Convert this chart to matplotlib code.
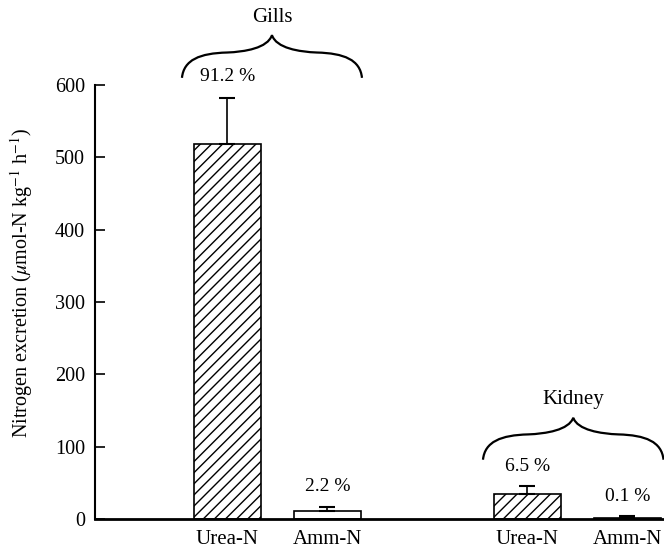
import matplotlib
matplotlib.use("Agg")
import matplotlib.pyplot as plt
from matplotlib.path import Path
from matplotlib.patches import PathPatch

plt.rcParams['font.family'] = ['Liberation Serif', 'DejaVu Serif']
plt.rcParams['mathtext.fontset'] = 'stix'
plt.rcParams['hatch.linewidth'] = 1.0

categories = ["Urea-N", "Amm-N", "Urea-N", "Amm-N"]
values = [518, 11, 35, 2]
errors = [64, 6, 11, 2]
percents = ["91.2 %", "2.2 %", "6.5 %", "0.1 %"]
groups = ["Gills", "Kidney"]
positions = [0, 1, 3, 4]
hatches = ["///", "", "///", ""]
fills = ["white", "white", "white", "black"]

fig = plt.figure(figsize=(6.64, 5.56), dpi=100)
ax = fig.add_axes([0.143, 0.0665, 0.857, 0.7805])

bars = ax.bar(positions, values, width=0.67, color=fills, edgecolor="black",
              linewidth=1.2, zorder=2)
for b, h in zip(bars, hatches):
    b.set_hatch(h)
ax.errorbar(positions, values, yerr=[[0]*4, errors], fmt="none", ecolor="black",
            elinewidth=1.2, capsize=6, capthick=1.5, zorder=3)

pct_y = [612, 45, 73, 31]
for p, t, yy in zip(positions, percents, pct_y):
    ax.text(p, yy, t, ha="center", va="center", fontsize=14)

def brace(x0, x1, ye, ym, yp):
    xc = (x0 + x1) / 2
    w = xc - x0
    verts = [
        (x0, ye),
        (x0 + 0.02 * w, ym - 8), (x0 + 0.2 * w, ym + 1), (x0 + 0.5 * w, ym + 2),
        (xc - 0.3 * w, ym + 3), (xc - 0.05 * w, ym + 8), (xc, yp),
        (xc + 0.05 * w, ym + 8), (xc + 0.3 * w, ym + 3), (x1 - 0.5 * w, ym + 2),
        (x1 - 0.2 * w, ym + 1), (x1 - 0.02 * w, ym - 8), (x1, ye),
    ]
    codes = [Path.MOVETO] + [Path.CURVE4] * 12
    patch = PathPatch(Path(verts, codes), facecolor="none", edgecolor="black",
                      linewidth=1.6, clip_on=False)
    ax.add_patch(patch)
    return xc

xc = brace(-0.455, 1.345, 610, 643, 669)
ax.text(xc, 694, groups[0], ha="center", va="center", fontsize=15, clip_on=False)
xc = brace(2.555, 4.36, 82, 115, 140)
ax.text(xc, 165, groups[1], ha="center", va="center", fontsize=15)

ax.set_xlim(-1.325, 4.365)
ax.set_ylim(0, 600)
ax.set_xticks(positions)
ax.set_xticklabels(categories, fontsize=15)
ax.tick_params(axis="x", length=0, pad=8)
ax.set_yticks([0, 100, 200, 300, 400, 500, 600])
ax.tick_params(axis="y", direction="in", length=7, width=1.2, labelsize=14.5, pad=7)
for s in ["top", "right"]:
    ax.spines[s].set_visible(False)
ax.spines["left"].set_linewidth(1.5)
ax.spines["bottom"].set_linewidth(2)
fig.text(22 / 664, 1 - 283 / 556,
         r"Nitrogen excretion ($\mu$mol-N kg$^{-1}$ h$^{-1}$)",
         rotation=90, ha="center", va="center", fontsize=14.5)

fig.savefig("out.png", dpi=100)
